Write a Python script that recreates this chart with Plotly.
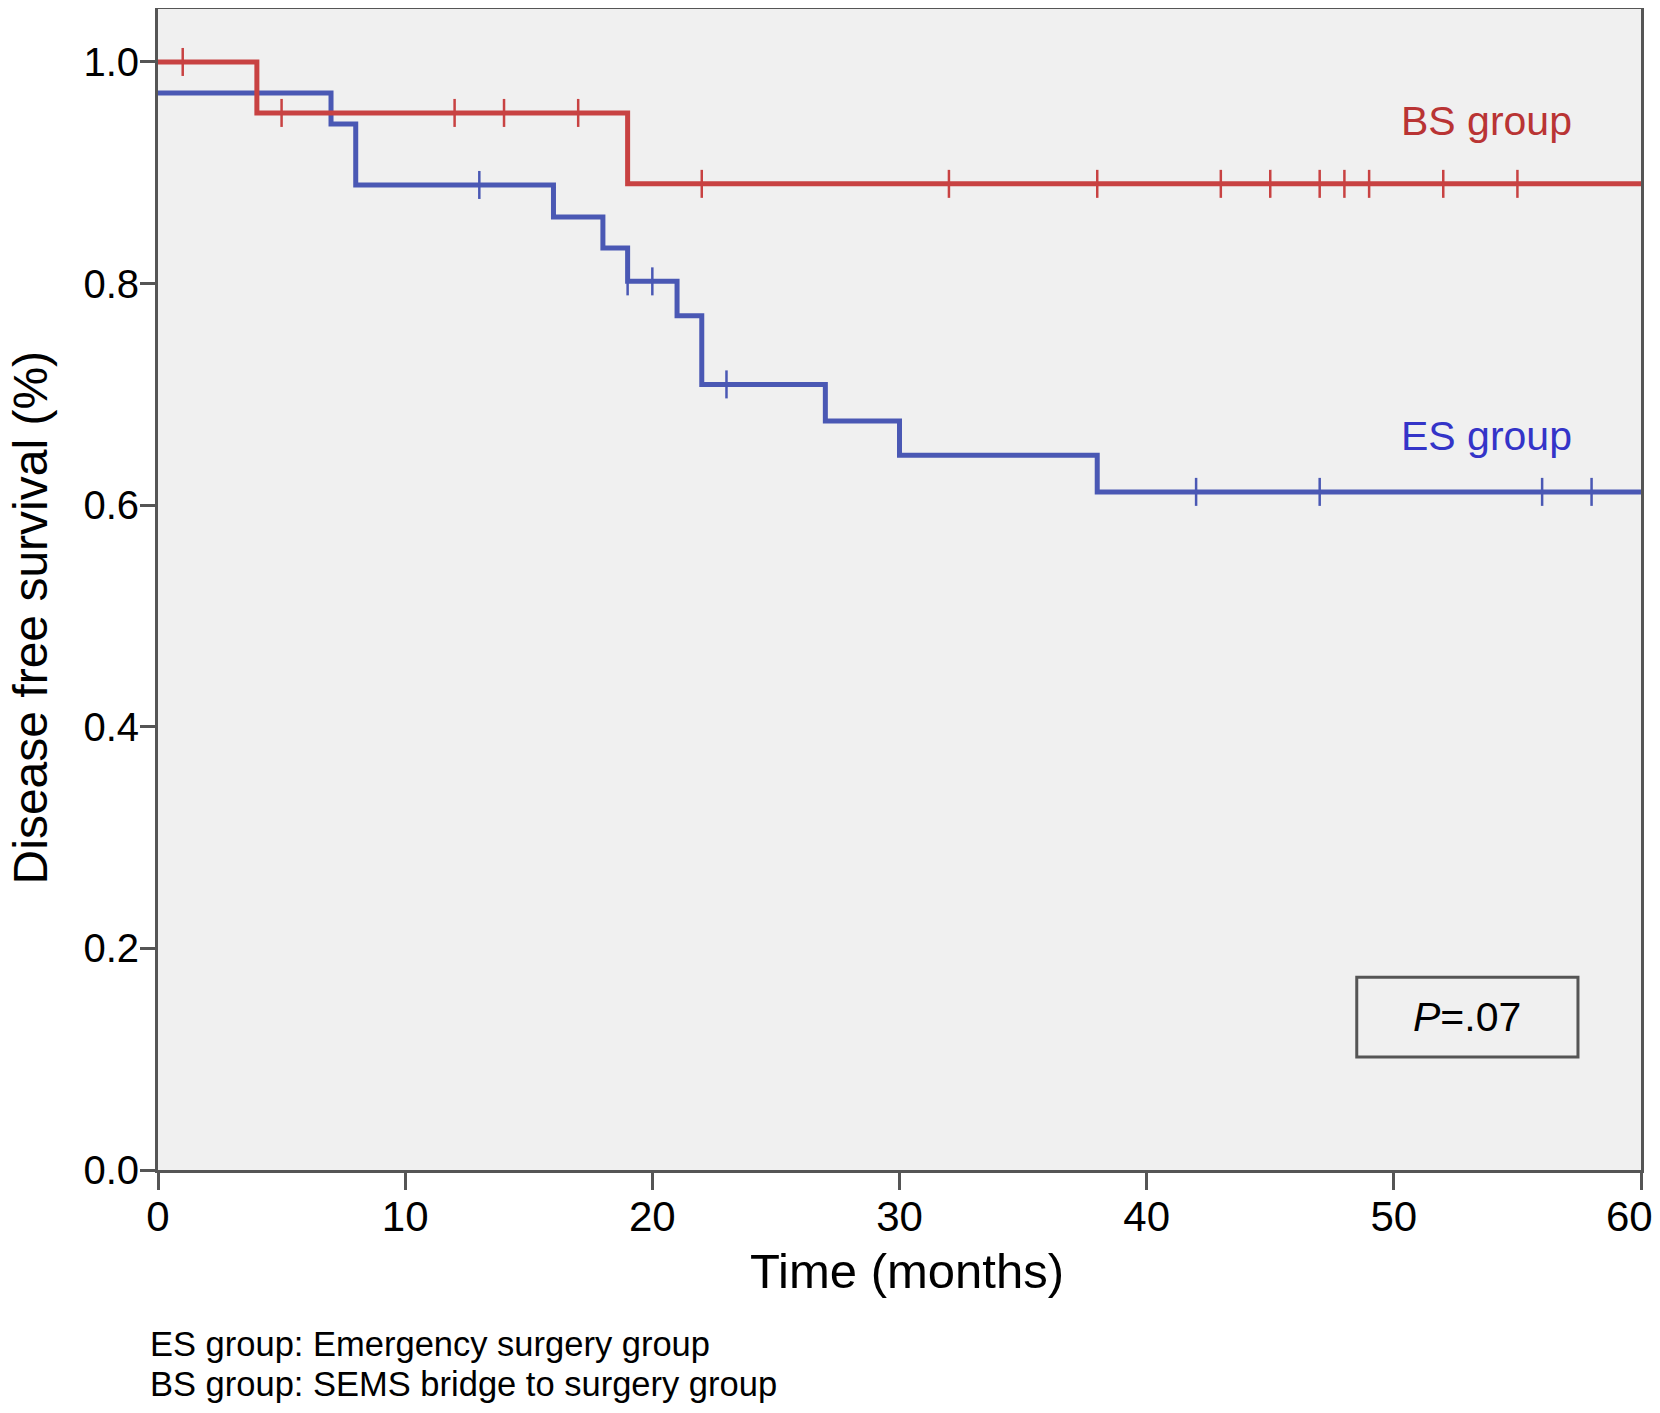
import plotly.graph_objects as go

# Kaplan-Meier steps
bs_times = [0, 4, 19, 60]
bs_surv = [1.0, 0.954, 0.890, 0.890]
bs_censor = [1, 5, 12, 14, 17, 22, 32, 38, 43, 45, 47, 48, 49, 52, 55]

es_times = [0, 7, 8, 16, 18, 19, 21, 22, 27, 30, 38, 60]
es_surv = [0.972, 0.944, 0.889, 0.860, 0.832, 0.802, 0.771, 0.709, 0.676, 0.645, 0.612, 0.612]
es_censor = [13, 19, 20, 23, 42, 47, 56, 58]

x_ticks = [0, 10, 20, 30, 40, 50, 60]
y_ticks = [0.0, 0.2, 0.4, 0.6, 0.8, 1.0]

RED = 'rgb(200,66,66)'
BLUE = 'rgb(74,88,180)'
FONT = 'Liberation Sans, Arial, sans-serif'


def surv_at(times, surv, t):
    # value of the step curve at time t
    val = surv[0]
    for ti, si in zip(times, surv):
        if ti <= t:
            val = si
    return val


fig = go.Figure()

for times, surv, cens, color in [(es_times, es_surv, es_censor, BLUE),
                                 (bs_times, bs_surv, bs_censor, RED)]:
    fig.add_trace(go.Scatter(x=times, y=surv, mode='lines',
                             line=dict(color=color, width=5, shape='hv'),
                             showlegend=False, hoverinfo='skip'))
    fig.add_trace(go.Scatter(x=cens, y=[surv_at(times, surv, t) for t in cens],
                             mode='markers',
                             marker=dict(symbol='line-ns', size=20,
                                         line=dict(color=color, width=2.5)),
                             showlegend=False, hoverinfo='skip'))

# group labels
fig.add_annotation(x=57.3, y=0.947, xref='x', yref='y', text='BS group',
                   showarrow=False, xanchor='right', yanchor='middle',
                   font=dict(size=41, color='rgb(185,52,52)', family=FONT))
fig.add_annotation(x=57.3, y=0.662, xref='x', yref='y', text='ES group',
                   showarrow=False, xanchor='right', yanchor='middle',
                   font=dict(size=41, color='rgb(52,52,200)', family=FONT))

# p-value box
fig.add_shape(type='rect', x0=48.5, x1=57.45, y0=0.102, y1=0.174,
              xref='x', yref='y', line=dict(color='#555555', width=3),
              fillcolor='rgba(0,0,0,0)')
fig.add_annotation(x=52.97, y=0.138, xref='x', yref='y', text='<i>P</i>=.07',
                   showarrow=False, xanchor='center', yanchor='middle',
                   font=dict(size=41, color='black', family=FONT))

# axis titles
fig.add_annotation(x=-0.086, y=0.4755, xref='paper', yref='paper',
                   text='Disease free survival (%)', textangle=-90, showarrow=False,
                   xanchor='center', yanchor='middle',
                   font=dict(size=48, color='black', family=FONT))
fig.add_annotation(x=0.505, y=-0.087, xref='paper', yref='paper',
                   text='Time (months)', showarrow=False,
                   xanchor='center', yanchor='middle',
                   font=dict(size=49, color='black', family=FONT))

# footnotes
fig.add_annotation(x=-0.0067, y=-0.1495, xref='paper', yref='paper',
                   text='ES group: Emergency surgery group', showarrow=False,
                   xanchor='left', yanchor='middle',
                   font=dict(size=34.5, color='black', family=FONT))
fig.add_annotation(x=-0.0067, y=-0.1842, xref='paper', yref='paper',
                   text='BS group: SEMS bridge to surgery group', showarrow=False,
                   xanchor='left', yanchor='middle',
                   font=dict(size=34.5, color='black', family=FONT))

# the last x label is padded with an invisible digit so it sits a little left
# of its tick and stays inside the page, as in the reference
x_labels = [str(v) for v in x_ticks]
x_labels[-1] = x_labels[-1] + '<span style="color:rgba(0,0,0,0)">0</span>'

# the page body adds an 8px margin on every side, so the figure is 16px
# smaller than the window to keep the page from scrolling
fig.update_layout(
    width=1644, height=1397,
    margin=dict(l=150, r=11, t=1, b=235, autoexpand=False),
    plot_bgcolor='#f0f0f0',
    paper_bgcolor='white',
    font=dict(family=FONT, color='black'),
    xaxis=dict(range=[0, 60], tickvals=x_ticks, ticktext=x_labels,
               showgrid=False, zeroline=False, automargin=False,
               showline=True, mirror=True, linecolor='#555555', linewidth=3,
               ticks='outside', ticklen=17, tickwidth=3, tickcolor='#555555',
               ticklabeloverflow='allow', ticklabelstandoff=-9,
               tickfont=dict(size=42)),
    yaxis=dict(range=[0, 1.0478], tickvals=y_ticks,
               ticktext=['%.1f' % v for v in y_ticks],
               showgrid=False, zeroline=False, automargin=False,
               showline=True, mirror=True, linecolor='#555555', linewidth=3,
               ticks='outside', ticklen=15, tickwidth=3, tickcolor='#555555',
               ticklabelstandoff=-7, tickfont=dict(size=40)),
)

fig.write_html("out.html")
